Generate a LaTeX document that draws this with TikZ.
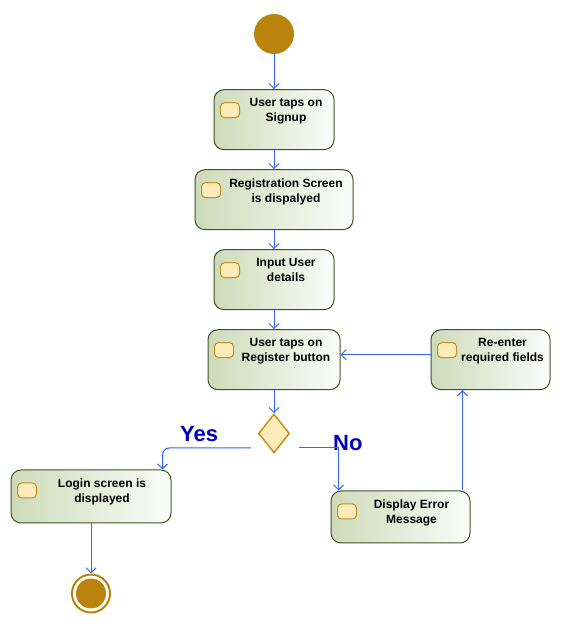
\documentclass[tikz,border=0pt]{standalone}
\usepackage{fontspec}
\setmainfont{Liberation Sans}
\usetikzlibrary{shapes, positioning, arrows.meta}
\definecolor{gold}{RGB}{186,132,12}
\definecolor{actline}{RGB}{66,82,40}
\definecolor{actleft}{RGB}{205,219,185}
\definecolor{actright}{RGB}{251,252,249}
\definecolor{iconfill}{RGB}{253,236,185}
\definecolor{iconline}{RGB}{200,140,30}
\definecolor{flowblue}{RGB}{52,100,255}
\definecolor{choiceblue}{RGB}{0,0,190}

\begin{document}
\begin{tikzpicture}[x=1pt, y=1pt, node distance=19pt,
        act/.style = {draw=actline, line width=1pt, rounded corners=10pt,
                        left color=actleft, right color=actright,
                        minimum height=60pt, inner sep=0pt,
                        path picture={\draw[draw=iconline, fill=iconfill,
                        line width=1pt, rounded corners=4pt]
                        ([xshift=6.5pt, yshift=-13pt]path picture bounding box.north west)
                        rectangle ++(19pt,-15pt);}},
        txt/.style = {anchor=north, align=center, inner sep=0pt,
                        font=\bfseries\fontsize{12}{15}\selectfont},
        startdot/.style = {circle, fill=gold, minimum size=40pt, inner sep=0pt},
        endring/.style = {circle, draw=gold, line width=2pt, fill=white,
                        minimum size=38pt, inner sep=0pt},
        decision/.style = {diamond, draw=iconline, fill=iconfill, line width=1.5pt,
                        minimum width=31pt, minimum height=39pt, inner sep=0pt},
        choice/.style = {anchor=base west, inner sep=0pt, text=choiceblue,
                        font=\bfseries\fontsize{22}{26}\selectfont},
        flow/.style = {draw=flowblue, line width=1pt,
                        -{Straight Barb[length=5pt, width=10pt]}}]
        \useasboundingbox (0,0) rectangle (561,628);

        \node[startdot] (start) at (274,594) {};
        \node[act, minimum width=120pt] (signup) [below=35pt of start] {};
        \node[act, minimum width=158pt] (reg) [below=of signup] {};
        \node[act, minimum width=120pt] (input) [below=of reg] {};
        \node[act, minimum width=132pt] (register) [below=of input] {};
        \node[act, minimum width=119pt] (reenter) [right=90pt of register] {};
        \node[decision] (decide) [below=23pt of register] {};
        \node[act, minimum width=160pt, minimum height=53pt] (login) at (91,131.5) {};
        \node[act, minimum width=139pt, minimum height=52pt] (error) at (400.5,111) {};
        \node[endring] (stop) [below=50pt of login] {};
        \node[startdot, minimum size=30pt] (stopdot) at (stop) {};

        \node[txt] (signup-txt) at ([xshift=12pt, yshift=-9pt]signup.north) {User taps on\\Signup};
        \node[txt] (reg-txt) at ([xshift=12pt, yshift=-9pt]reg.north) {Registration Screen\\is dispalyed};
        \node[txt] (input-txt) at ([xshift=12pt, yshift=-9pt]input.north) {Input User\\details};
        \node[txt] (register-txt) at ([xshift=12pt, yshift=-9pt]register.north) {User taps on\\Register button};
        \node[txt] (reenter-txt) at ([xshift=12pt, yshift=-9pt]reenter.north) {Re-enter\\required fields};
        \node[txt] (login-txt) at ([xshift=11pt, yshift=-9pt]login.north) {Login screen is\\displayed};
        \node[txt] (error-txt) at ([xshift=11pt, yshift=-9pt]error.north) {Display Error\\Message};

        \node[choice] (yes) at (180,186) {Yes};
        \node[choice] (no) at (333,177) {No};

        \coordinate (yes-start) at ([xshift=-7pt, yshift=-14.5pt]decide.west);
        \coordinate (no-start) at ([xshift=9pt, yshift=-14.5pt]decide.east);

        \draw[flow] (start) -- (signup);
        \draw[flow] (signup) -- (reg);
        \draw[flow] (reg) -- (input);
        \draw[flow] (input) -- (register);
        \draw[flow] (register) -- (decide);
        \draw[flow, rounded corners=7pt] (yes-start) -| ([xshift=-9pt]login.north east);
        \draw[flow] (no-start) -| ([xshift=8pt]error.north west);
        \draw[flow] ([xshift=-8pt]error.north east) -- ([xshift=-8pt]error.north east |- reenter.south);
        \draw[flow] ([yshift=5pt]reenter.west) -- ([yshift=5pt]register.east);
        \draw[flow] (login) -- (stop);
    \end{tikzpicture}
\end{document}
